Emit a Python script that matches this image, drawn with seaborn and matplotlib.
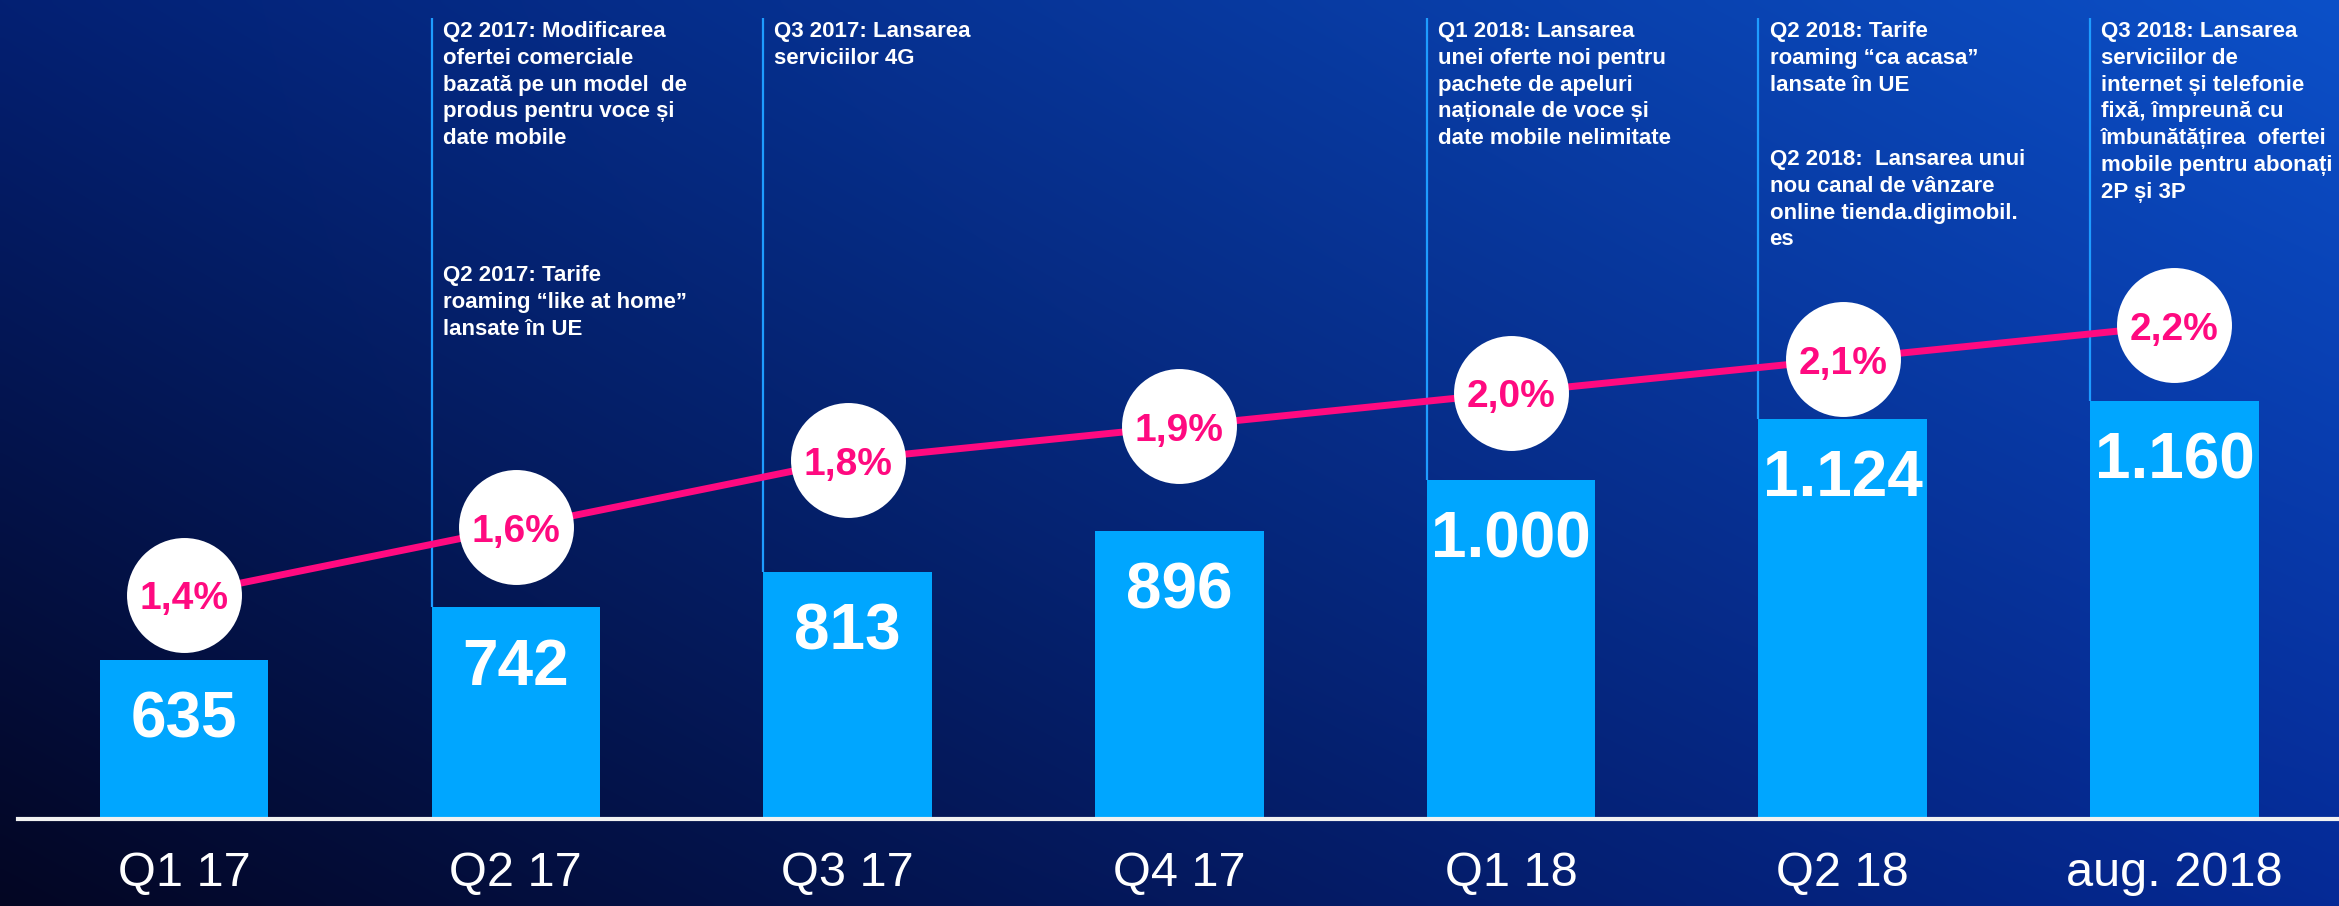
import numpy as np
import pandas as pd
import matplotlib
matplotlib.use('Agg')
import matplotlib.pyplot as plt
import seaborn as sns

# Data
quarters = ['Q1 17', 'Q2 17', 'Q3 17', 'Q4 17', 'Q1 18', 'Q2 18', 'aug. 2018']
subscribers = [635, 742, 813, 896, 1000, 1124, 1160]   # thousands
share = [1.4, 1.6, 1.8, 1.9, 2.0, 2.1, 2.2]            # market share, %

# Milestone notes: (bar index, text, top of text block in px from figure top)
note_idx = [1, 1, 2, 4, 5, 5, 6]
note_top = [21, 265, 21, 21, 21, 149, 21]
note_text = [
    'Q2 2017: Modificarea\nofertei comerciale\nbazată pe un model  de\nprodus pentru voce și\ndate mobile',
    'Q2 2017: Tarife\nroaming “like at home”\nlansate în UE',
    'Q3 2017: Lansarea\nserviciilor 4G',
    'Q1 2018: Lansarea\nunei oferte noi pentru\npachete de apeluri\nnaționale de voce și\ndate mobile nelimitate',
    'Q2 2018: Tarife\nroaming “ca acasa”\nlansate în UE',
    'Q2 2018:  Lansarea unui\nnou canal de vânzare\nonline tienda.digimobil.\nes',
    'Q3 2018: Lansarea\nserviciilor de\ninternet și telefonie\nfixă, împreună cu\nîmbunătățirea  ofertei\nmobile pentru abonați\n2P și 3P',
]

df = pd.DataFrame({'quarter': quarters, 'subs': subscribers, 'share': share})

BAR = '#00A6FF'
PINK = '#FF0A80'
NOTE_LINE = '#1E9CFF'

sns.set_style('white')
plt.rcParams['font.family'] = ['Liberation Sans', 'DejaVu Sans']

W, H = 2339, 906
fig = plt.figure(figsize=(W / 100, H / 100), dpi=100)

# background gradient
bg = fig.add_axes([0, 0, 1, 1])
tl = np.array([3, 32, 115]) / 255
tr = np.array([12, 80, 200]) / 255
bl = np.array([3, 6, 35]) / 255
br = np.array([5, 42, 150]) / 255
u = np.linspace(0, 1, 400)[None, :, None]
v = np.linspace(0, 1, 160)[:, None, None]
grad = (1 - v) * ((1 - u) * tl + u * tr) + v * ((1 - u) * bl + u * br)
bg.imshow(grad, aspect='auto', extent=[0, 1, 0, 1], interpolation='bicubic')
bg.axis('off')

base_px = 819
ax = fig.add_axes([0, (H - base_px) / H, 1, base_px / H])
ax.set_facecolor('none')

bar_w = 0.508
sns.barplot(data=df, x='quarter', y='subs', color=BAR, saturation=1,
            width=bar_w, linewidth=0, edgecolor='none', ax=ax, zorder=2)

ymin, ymax = 312.7, 1973
ax.set_ylim(ymin, ymax)
ax.set_xlim(-0.555, 6.496)

for s in ['top', 'right', 'left']:
    ax.spines[s].set_visible(False)
ax.spines['bottom'].set_color('#F2F2F2')
ax.spines['bottom'].set_linewidth(3)
ax.spines['bottom'].set_bounds(-0.5, 6.6)
ax.spines['bottom'].set_zorder(5)
ax.set_yticks([])
ax.set_xlabel('')
ax.set_ylabel('')
ax.tick_params(axis='x', length=0, labelsize=35, labelcolor='white', pad=23)

# value labels in bars
for i, val in enumerate(subscribers):
    ax.annotate(f'{val:,}'.replace(',', '.'), xy=(i, val), xytext=(0, -22),
                textcoords='offset points', ha='center', va='top',
                fontsize=46, fontweight='bold', color='white', zorder=4)

# milestone lines and notes
for i in sorted(set(note_idx)):
    ax.vlines(i - bar_w / 2, subscribers[i], 1936, color=NOTE_LINE, lw=1.6, zorder=1)
for i, top, txt in zip(note_idx, note_top, note_text):
    ax.annotate(txt, xy=(i - bar_w / 2, 1 - top / H), xycoords=('data', 'figure fraction'),
                xytext=(8, 0), textcoords='offset points', ha='left', va='top',
                fontsize=16, fontweight='bold', color='white', linespacing=1.36,
                annotation_clip=False)

# market share line
ax2 = ax.twinx()
ax2.set_ylim(0.733, 3.167)
sns.lineplot(x=np.arange(len(share)), y=share, ax=ax2, color=PINK, lw=5, zorder=2)
sns.scatterplot(x=np.arange(len(share)), y=share, ax=ax2, s=6850, color='white',
                linewidth=0, zorder=3)
for i, val in enumerate(share):
    ax2.annotate(f'{val:.1f}%'.replace('.', ','), xy=(i, val), xytext=(0, -10.5),
                 textcoords='offset points', ha='center', va='baseline',
                 fontsize=28, fontweight='bold', color=PINK, zorder=4)
ax2.set_yticks([])
ax2.set_ylabel('')
for s in ax2.spines.values():
    s.set_visible(False)
ax.set_xlim(-0.555, 6.496)

fig.savefig('out.png', dpi=100)
